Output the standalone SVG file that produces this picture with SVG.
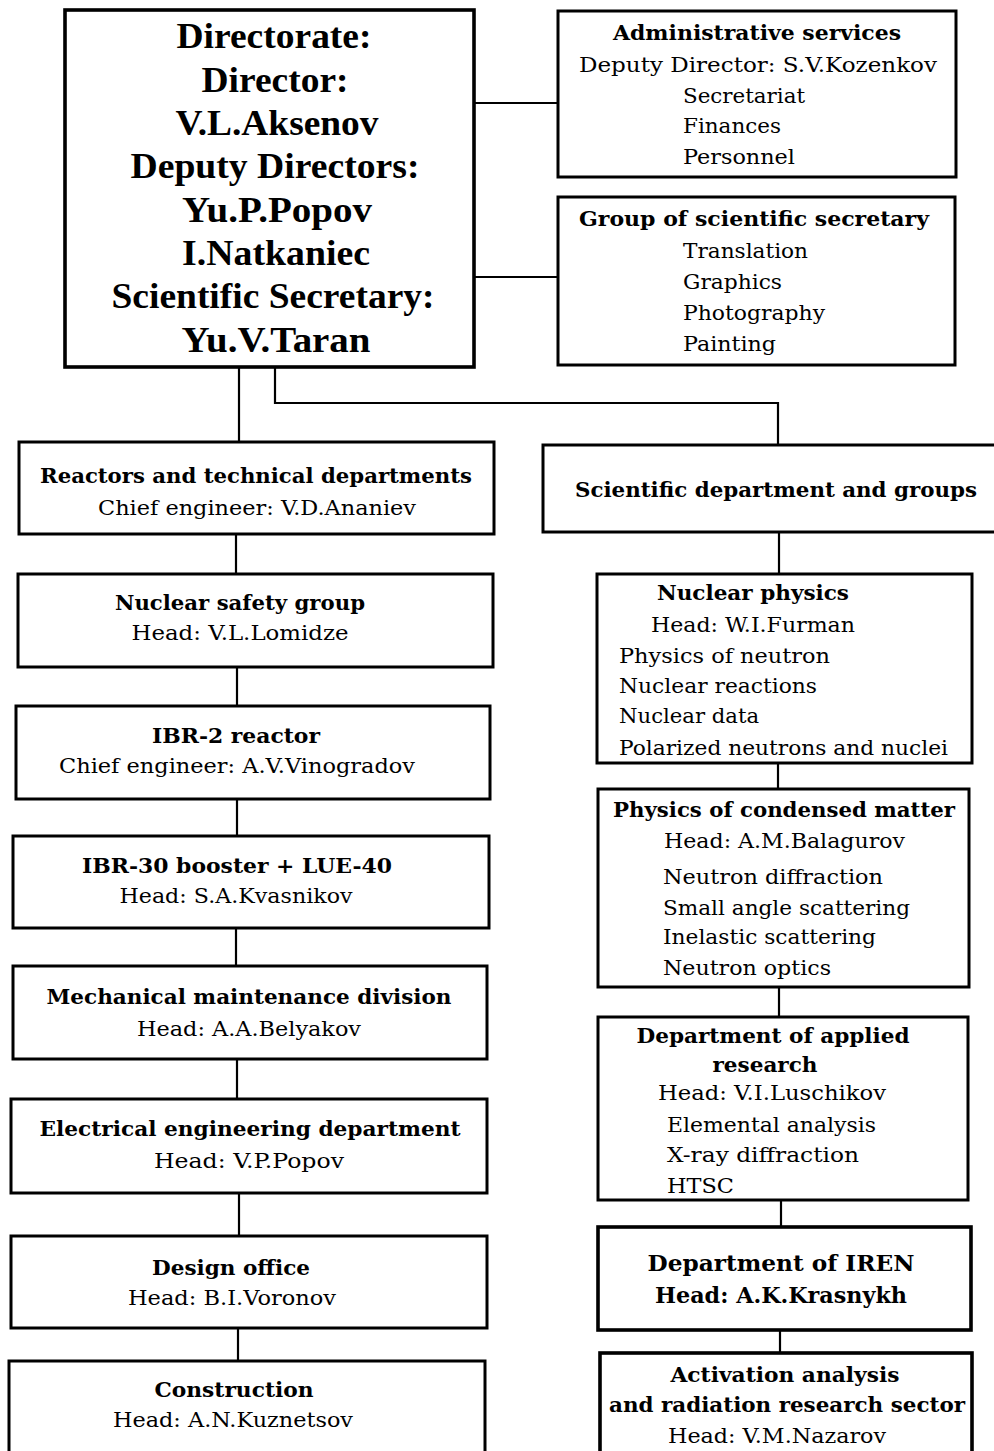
<svg xmlns="http://www.w3.org/2000/svg" width="994" height="1451" viewBox="0 0 994 1451">
<style>
.box{fill:#fff;stroke:#000;stroke-width:3}
.thick{stroke-width:3.6}
.conn{fill:none;stroke:#000;stroke-width:2.2}
.h{font-family:"DejaVu Serif",serif;font-weight:bold;font-size:21px;fill:#000}
.hb{font-family:"DejaVu Serif",serif;font-weight:bold;font-size:23px;fill:#000}
.t{font-family:"DejaVu Serif",serif;font-size:21px;fill:#000}
.d{font-family:"Liberation Serif",serif;font-weight:bold;font-size:35px;fill:#000}
.m{text-anchor:middle}
</style>
<rect width="994" height="1451" fill="#fff"/>
<g id="connectors">
<path class="conn" d="M474 103H558"/>
<path class="conn" d="M474 277H558"/>
<path class="conn" d="M239 367V442"/>
<path class="conn" d="M275 367V403H778V445"/>
<path class="conn" d="M236 534V574"/>
<path class="conn" d="M237 667V706"/>
<path class="conn" d="M237 799V836"/>
<path class="conn" d="M236 928V966"/>
<path class="conn" d="M237 1059V1099"/>
<path class="conn" d="M239 1193V1236"/>
<path class="conn" d="M238 1328V1361"/>
<path class="conn" d="M779 532V574"/>
<path class="conn" d="M778 763V789"/>
<path class="conn" d="M779 987V1017"/>
<path class="conn" d="M781 1200V1227"/>
<path class="conn" d="M780 1330V1353"/>
</g>
<g id="directorate">
<rect class="box thick" x="65" y="10" width="409" height="357"/>
<text class="d m" x="274" y="48" textLength="195" lengthAdjust="spacingAndGlyphs">Directorate:</text>
<text class="d m" x="275" y="92" textLength="147" lengthAdjust="spacingAndGlyphs">Director:</text>
<text class="d m" x="277" y="135" textLength="203" lengthAdjust="spacingAndGlyphs">V.L.Aksenov</text>
<text class="d m" x="275" y="178" textLength="289" lengthAdjust="spacingAndGlyphs">Deputy Directors:</text>
<text class="d m" x="277" y="222" textLength="190" lengthAdjust="spacingAndGlyphs">Yu.P.Popov</text>
<text class="d m" x="276" y="265" textLength="188" lengthAdjust="spacingAndGlyphs">I.Natkaniec</text>
<text class="d m" x="273" y="308" textLength="323" lengthAdjust="spacingAndGlyphs">Scientific Secretary:</text>
<text class="d m" x="276" y="352" textLength="189" lengthAdjust="spacingAndGlyphs">Yu.V.Taran</text>
</g>
<g id="admin">
<rect class="box" x="558" y="11" width="398" height="166"/>
<text class="h m" x="757" y="40" textLength="288" lengthAdjust="spacingAndGlyphs">Administrative services</text>
<text class="t m" x="758" y="72" textLength="358" lengthAdjust="spacingAndGlyphs">Deputy Director: S.V.Kozenkov</text>
<text class="t" x="683" y="103" textLength="122" lengthAdjust="spacingAndGlyphs">Secretariat</text>
<text class="t" x="683" y="133" textLength="98" lengthAdjust="spacingAndGlyphs">Finances</text>
<text class="t" x="683" y="164" textLength="112" lengthAdjust="spacingAndGlyphs">Personnel</text>
</g>
<g id="sci-secretary">
<rect class="box" x="558" y="197" width="397" height="168"/>
<text class="h m" x="754" y="226" textLength="350" lengthAdjust="spacingAndGlyphs">Group of scientific secretary</text>
<text class="t" x="683" y="258" textLength="125" lengthAdjust="spacingAndGlyphs">Translation</text>
<text class="t" x="683" y="289" textLength="99" lengthAdjust="spacingAndGlyphs">Graphics</text>
<text class="t" x="683" y="320" textLength="142" lengthAdjust="spacingAndGlyphs">Photography</text>
<text class="t" x="683" y="351" textLength="93" lengthAdjust="spacingAndGlyphs">Painting</text>
</g>
<g id="reactors">
<rect class="box" x="19" y="442" width="475" height="92"/>
<text class="h m" x="256" y="483" textLength="432" lengthAdjust="spacingAndGlyphs">Reactors and technical departments</text>
<text class="t m" x="257" y="515" textLength="318" lengthAdjust="spacingAndGlyphs">Chief engineer: V.D.Ananiev</text>
</g>
<g id="nuclear-safety">
<rect class="box" x="18" y="574" width="475" height="93"/>
<text class="h m" x="240" y="610" textLength="250" lengthAdjust="spacingAndGlyphs">Nuclear safety group</text>
<text class="t m" x="240" y="640" textLength="217" lengthAdjust="spacingAndGlyphs">Head: V.L.Lomidze</text>
</g>
<g id="ibr2">
<rect class="box" x="16" y="706" width="474" height="93"/>
<text class="h m" x="236" y="743" textLength="168" lengthAdjust="spacingAndGlyphs">IBR-2 reactor</text>
<text class="t m" x="237" y="773" textLength="356" lengthAdjust="spacingAndGlyphs">Chief engineer: A.V.Vinogradov</text>
</g>
<g id="ibr30">
<rect class="box" x="13" y="836" width="476" height="92"/>
<text class="h m" x="237" y="873" textLength="310" lengthAdjust="spacingAndGlyphs">IBR-30 booster + LUE-40</text>
<text class="t m" x="236" y="903" textLength="233" lengthAdjust="spacingAndGlyphs">Head: S.A.Kvasnikov</text>
</g>
<g id="mechanical">
<rect class="box" x="13" y="966" width="474" height="93"/>
<text class="h m" x="249" y="1004" textLength="405" lengthAdjust="spacingAndGlyphs">Mechanical maintenance division</text>
<text class="t m" x="249" y="1036" textLength="224" lengthAdjust="spacingAndGlyphs">Head: A.A.Belyakov</text>
</g>
<g id="electrical">
<rect class="box" x="11" y="1099" width="476" height="94"/>
<text class="h m" x="250" y="1136" textLength="421" lengthAdjust="spacingAndGlyphs">Electrical engineering department</text>
<text class="t m" x="249" y="1168" textLength="190" lengthAdjust="spacingAndGlyphs">Head: V.P.Popov</text>
</g>
<g id="design">
<rect class="box" x="11" y="1236" width="476" height="92"/>
<text class="h m" x="231" y="1275" textLength="158" lengthAdjust="spacingAndGlyphs">Design office</text>
<text class="t m" x="232" y="1305" textLength="208" lengthAdjust="spacingAndGlyphs">Head: B.I.Voronov</text>
</g>
<g id="construction">
<rect class="box" x="9" y="1361" width="476" height="110"/>
<text class="h m" x="234" y="1397" textLength="159" lengthAdjust="spacingAndGlyphs">Construction</text>
<text class="t m" x="233" y="1427" textLength="240" lengthAdjust="spacingAndGlyphs">Head: A.N.Kuznetsov</text>
</g>
<g id="scientific">
<rect class="box" x="543" y="445" width="470" height="87"/>
<text class="h m" x="776" y="497" textLength="402" lengthAdjust="spacingAndGlyphs">Scientific department and groups</text>
</g>
<g id="nuclear-physics">
<rect class="box" x="597" y="574" width="375" height="189"/>
<text class="h m" x="753" y="600" textLength="192" lengthAdjust="spacingAndGlyphs">Nuclear physics</text>
<text class="t" x="651" y="632" textLength="204" lengthAdjust="spacingAndGlyphs">Head: W.I.Furman</text>
<text class="t" x="619" y="663" textLength="211" lengthAdjust="spacingAndGlyphs">Physics of neutron</text>
<text class="t" x="619" y="693" textLength="198" lengthAdjust="spacingAndGlyphs">Nuclear reactions</text>
<text class="t" x="619" y="723" textLength="140" lengthAdjust="spacingAndGlyphs">Nuclear data</text>
<text class="t" x="619" y="755" textLength="329" lengthAdjust="spacingAndGlyphs">Polarized neutrons and nuclei</text>
</g>
<g id="condensed-matter">
<rect class="box" x="598" y="789" width="371" height="198"/>
<text class="h m" x="784" y="817" textLength="342" lengthAdjust="spacingAndGlyphs">Physics of condensed matter</text>
<text class="t" x="664" y="848" textLength="241" lengthAdjust="spacingAndGlyphs">Head: A.M.Balagurov</text>
<text class="t" x="663" y="884" textLength="220" lengthAdjust="spacingAndGlyphs">Neutron diffraction</text>
<text class="t" x="663" y="915" textLength="247" lengthAdjust="spacingAndGlyphs">Small angle scattering</text>
<text class="t" x="663" y="944" textLength="213" lengthAdjust="spacingAndGlyphs">Inelastic scattering</text>
<text class="t" x="663" y="975" textLength="168" lengthAdjust="spacingAndGlyphs">Neutron optics</text>
</g>
<g id="applied-research">
<rect class="box" x="598" y="1017" width="370" height="183"/>
<text class="h m" x="773" y="1043" textLength="273" lengthAdjust="spacingAndGlyphs">Department of applied</text>
<text class="h m" x="765" y="1072" textLength="105" lengthAdjust="spacingAndGlyphs">research</text>
<text class="t" x="658" y="1100" textLength="228" lengthAdjust="spacingAndGlyphs">Head: V.I.Luschikov</text>
<text class="t" x="667" y="1132" textLength="209" lengthAdjust="spacingAndGlyphs">Elemental analysis</text>
<text class="t" x="667" y="1162" textLength="192" lengthAdjust="spacingAndGlyphs">X-ray diffraction</text>
<text class="t" x="667" y="1193" textLength="67" lengthAdjust="spacingAndGlyphs">HTSC</text>
</g>
<g id="iren">
<rect class="box thick" x="598" y="1227" width="373" height="103"/>
<text class="hb m" x="781" y="1271" textLength="267" lengthAdjust="spacingAndGlyphs">Department of IREN</text>
<text class="hb m" x="781" y="1303" textLength="252" lengthAdjust="spacingAndGlyphs">Head: A.K.Krasnykh</text>
</g>
<g id="activation">
<rect class="box thick" x="600" y="1353" width="372" height="110"/>
<text class="h m" x="785" y="1382" textLength="229" lengthAdjust="spacingAndGlyphs">Activation analysis</text>
<text class="h m" x="787" y="1412" textLength="356" lengthAdjust="spacingAndGlyphs">and radiation research sector</text>
<text class="t m" x="777" y="1443" textLength="218" lengthAdjust="spacingAndGlyphs">Head: V.M.Nazarov</text>
</g>
</svg>
